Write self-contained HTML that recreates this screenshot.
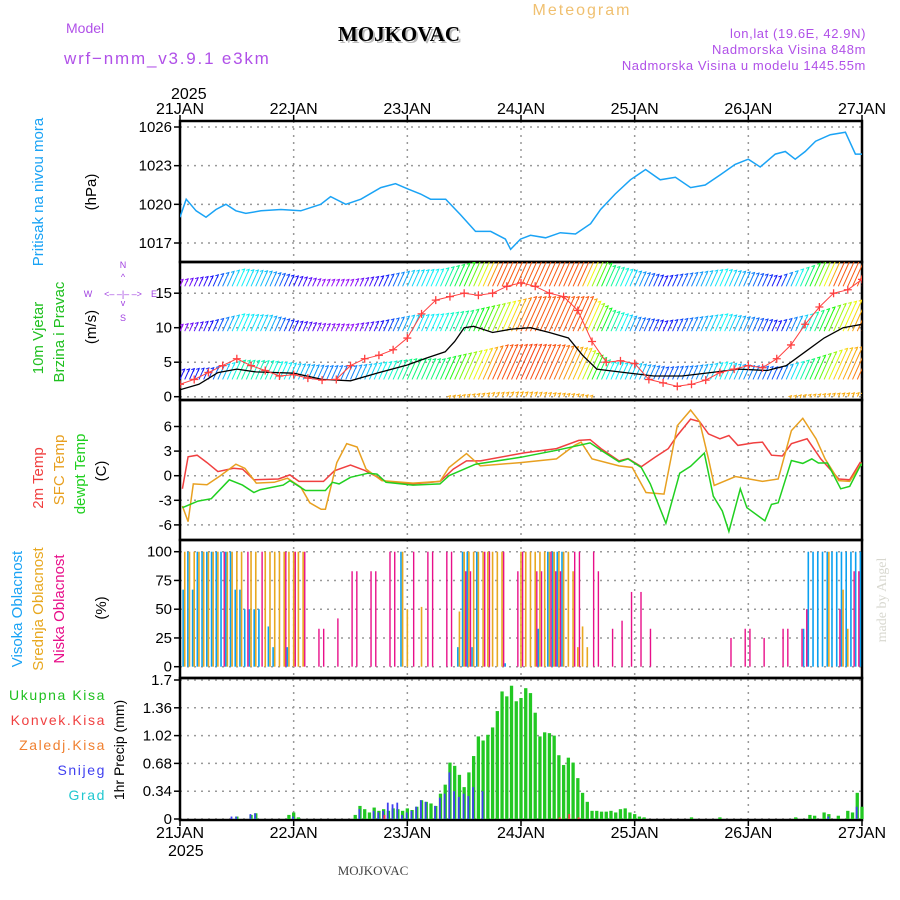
<!DOCTYPE html>
<html><head><meta charset="utf-8">
<style>
html,body{margin:0;padding:0;background:#fff;}
svg{display:block;font-family:"Liberation Sans",sans-serif;}
</style></head>
<body>
<svg id="chart" width="900" height="900" viewBox="0 0 900 900" xmlns="http://www.w3.org/2000/svg">
<defs>
<clipPath id="c1"><rect x="180" y="121" width="682" height="141"/></clipPath>
<clipPath id="c2"><rect x="180" y="262" width="682" height="138"/></clipPath>
<clipPath id="c3"><rect x="180" y="400" width="682" height="140"/></clipPath>
</defs>
<text x="582" y="15" font-size="16" fill="#f0c070" text-anchor="middle" letter-spacing="2">Meteogram</text>
<text x="66" y="33" font-size="14" fill="#b050e8">Model</text>
<text x="401" y="43" font-size="21" font-weight="bold" font-family="Liberation Serif,serif" fill="#bbb" text-anchor="middle">MOJKOVAC</text>
<text x="399" y="41" font-size="21" font-weight="bold" font-family="Liberation Serif,serif" fill="#000" text-anchor="middle">MOJKOVAC</text>
<text x="64" y="64" font-size="17" fill="#b050e8" letter-spacing="1.8">wrf−nmm_v3.9.1 e3km</text>
<text x="866" y="38" font-size="13" fill="#b050e8" text-anchor="end" letter-spacing="0.6">lon,lat (19.6E, 42.9N)</text>
<text x="866" y="54" font-size="13" fill="#b050e8" text-anchor="end" letter-spacing="0.6">Nadmorska Visina 848m</text>
<text x="866" y="70" font-size="13" fill="#b050e8" text-anchor="end" letter-spacing="0.6">Nadmorska Visina u modelu 1445.55m</text>
<text x="171" y="99" font-size="16" fill="#000">2025</text>
<text x="168" y="856" font-size="16" fill="#000">2025</text>
<text x="373" y="875" font-size="13" font-family="Liberation Serif,serif" fill="#444" text-anchor="middle">MOJKOVAC</text>
<text transform="translate(886,600) rotate(-90)" font-size="14" font-family="Liberation Serif,serif" fill="#d8d8d0" text-anchor="middle">made by Angel</text>

<text transform="translate(43,192) rotate(-90)" font-size="15" fill="#1aa3f5" text-anchor="middle">Pritisak na nivou mora</text>
<text transform="translate(96,192) rotate(-90)" font-size="15" fill="#000" text-anchor="middle">(hPa)</text>
<text transform="translate(43,338) rotate(-90)" font-size="15" fill="#20c020" text-anchor="middle">10m Vjetar</text>
<text transform="translate(64,332) rotate(-90)" font-size="15" fill="#20c020" text-anchor="middle">Brzina i Pravac</text>
<text transform="translate(96,327) rotate(-90)" font-size="15" fill="#000" text-anchor="middle">(m/s)</text>
<g font-size="9" fill="#a040e0" text-anchor="middle">
<text x="123" y="268">N</text><text x="123" y="280">^</text><text x="123" y="297">&lt;‒ ‒|‒ ‒&gt;</text><text x="88" y="297">W</text><text x="154" y="297">E</text><text x="123" y="306">v</text><text x="123" y="321">S</text>
</g>
<text transform="translate(43,478) rotate(-90)" font-size="15" fill="#f04040" text-anchor="middle">2m Temp</text>
<text transform="translate(64,470) rotate(-90)" font-size="15" fill="#e8a020" text-anchor="middle">SFC Temp</text>
<text transform="translate(85,474) rotate(-90)" font-size="15" fill="#20d020" text-anchor="middle">dewpt Temp</text>
<text transform="translate(106,471) rotate(-90)" font-size="15" fill="#000" text-anchor="middle">(C)</text>
<text transform="translate(22,609) rotate(-90)" font-size="15" fill="#1aa3f5" text-anchor="middle">Visoka Oblacnost</text>
<text transform="translate(43,609) rotate(-90)" font-size="15" fill="#e8a820" text-anchor="middle">Srednja Oblacnost</text>
<text transform="translate(64,609) rotate(-90)" font-size="15" fill="#e8108a" text-anchor="middle">Niska Oblacnost</text>
<text transform="translate(106,608) rotate(-90)" font-size="15" fill="#000" text-anchor="middle">(%)</text>
<g font-size="14" text-anchor="end" letter-spacing="1.6">
<text x="106" y="700" fill="#20c020">Ukupna Kisa</text>
<text x="106" y="725" fill="#f04040">Konvek.Kisa</text>
<text x="106" y="750" fill="#f08030">Zaledj.Kisa</text>
<text x="106" y="775" fill="#4040f0">Snijeg</text>
<text x="106" y="800" fill="#20c8d0">Grad</text>
</g>
<text transform="translate(124,750) rotate(-90)" font-size="14" fill="#000" text-anchor="middle">1hr Precip (mm)</text>
<g id="plot"></g>
</svg>
<script>
const dayLabels=["21JAN","22JAN","23JAN","24JAN","25JAN","26JAN","27JAN"];
const presTicks=[1017,1020,1023,1026];
const windTicks=[0,5,10,15];
const tempTicks=[-6,-3,0,3,6];
const cloudTicks=[0,25,50,75,100];
const precipTicks=[0,0.34,0.68,1.02,1.36,1.7];

const presH=[0,1.3,3.4,5.5,7.6,9.7,11.8,13.9,17.1,21.3,25.5,29.7,31.8,35,38.2,42.4,45.5,48.1,50.8,52.9,56.1,59.2,62.4,65.6,68.7,69.8,71.9,74,77.2,80.3,83.5,86.7,88.8,91.9,95.1,98.3,101.4,104.6,107.8,110.9,114.1,117.2,120,122.5,125.7,127.8,129.9,132,134.2,137.3,140.5,142.6,144];
const presV=[1019.0,1020.4,1019.5,1019.0,1019.6,1020.0,1019.5,1019.3,1019.5,1019.6,1019.5,1020.0,1020.6,1020.0,1020.4,1021.3,1021.6,1021.2,1020.8,1020.4,1020.4,1019.2,1017.9,1017.9,1017.3,1016.5,1017.3,1017.6,1017.4,1017.8,1017.7,1018.5,1019.6,1020.8,1021.9,1022.7,1021.9,1022.1,1021.3,1021.5,1022.3,1023.1,1023.5,1022.9,1023.9,1024.1,1023.5,1024.1,1024.9,1025.4,1025.6,1023.9,1023.9];

const speedH=[0,4,8,12,16,24,30,36,42,48,52,56,58,60,62,66,70,74,78,82,85,88,94,100,106,112,118,124,128,132,136,140,144];
const speedV=[1,1.8,3.5,4,3.6,3.4,2.5,2.3,3.5,4.6,5.6,6.5,8,10,10.2,9.3,9.8,10,9.3,8.5,6,4,3.5,3,3,3.5,4,3.8,4.5,6.5,8.5,10,10.5];
const gustH=[0,3,6,9,12,15,18,21,24,27,30,33,36,39,42,45,48,51,54,57,60,63,66,69,72,75,78,81,84,87,90,93,96,99,102,105,108,111,114,117,120,123,126,129,132,135,138,141,144];
const gustV=[1.8,2.5,3.5,4.5,5.5,4.5,3.8,3,3.2,2.7,2.4,2.5,4.5,5.5,6,6.8,8.5,12,14,14.5,15,14.7,15,16,16.5,16,15,14.5,12.5,8,5,5.2,4.8,2.5,2,1.5,1.8,2.4,3.5,4,4.5,4.2,5.5,7.5,10.5,13,15,15.5,17];

const barbH=[0,6,12,18,24,30,36,42,48,54,60,66,72,78,84,90,96,102,108,114,120,126,132,138,144];
const barbBase=[2.5,9.5,16,0];
const barbTopA=[4,4.2,5.3,5.2,4.8,4.5,4.5,5,5.5,5.5,6.5,7.5,7.6,7.5,7,5,4.8,4.3,4.5,5,4.5,4.3,5.5,7,7.5];
const barbTopB=[10.5,11,12,11.8,11,10.6,10.5,11,11.8,12,12.5,13.5,14.5,14.5,14.5,12.5,11.5,11,11.5,12,11.5,11,12,13.5,14.5];
const barbTopC=[17,17.5,18.5,18.2,17.5,17,17,17.5,18.3,18.5,19.5,21,21,21,21,19,18.2,17.5,18,18.5,18,17.5,19,21,21];
const barbTopD=[0,0,0,0,0,0,0,0,0,0,0.3,0.6,0.7,0.6,0.4,0,0,0,0,0,0,0,0.3,0.5,0.6];

const t2H=[0.5,1.7,3.6,5.7,8,11.3,13.2,15.6,20.8,23.2,25.1,30.3,32.6,36,38.8,43.5,49.2,54.9,57.7,60.5,63.4,72.8,79.5,84.2,86.6,88.9,92.7,94.6,97.4,100.3,103.1,105,107.8,109.7,111.6,114,115.9,117.8,121.1,123,124.9,127.2,129.1,132.4,135.3,139.1,141.4,143.6,144];
const t2V=[-1.6,2.3,2.5,1.6,0.5,0.9,0.8,-0.5,-0.4,0.1,-0.7,-0.7,0.6,1.3,0.7,-0.7,-1.0,-0.7,0.8,1.8,1.8,2.8,3.3,4.3,4.4,3.3,1.8,2.1,1.1,2.25,3.3,4.9,6.9,6.6,5.1,4.5,4.9,3.7,4.0,4.1,2.5,2.4,3.9,4.5,2.05,-0.4,-0.5,1.6,1.5];
const sfcH=[0.5,1.7,2.8,5.7,8.5,11.8,13.7,16.1,19.9,22.7,25.5,27.4,29.8,30.7,33.1,35.2,37.4,39.3,42.6,49.2,54.9,56.8,60.5,63.4,71.9,79.5,83.3,84.7,87,92.7,95.5,98.4,102.2,105,107.8,109.7,111.6,112.8,117.3,123,126.3,129.1,131.5,134.3,136.2,139.1,141.4,143.8,144];
const sfcV=[-3.7,-5.6,-1.0,-1.1,0,1.4,0.9,-0.9,-0.8,-0.3,-1.4,-3.3,-4.1,-4.1,1.6,3.9,3.5,0.8,-0.6,-0.9,-0.7,1.0,2.7,1.2,1.6,2.05,3.7,4.1,2.05,1.2,1.0,-2.05,-2.25,6.1,8.0,6.6,2.05,-1.2,-0.1,-0.7,-0.4,5.5,7.0,4.5,2.05,-0.6,-0.7,1.4,1.2];
const dewH=[0.5,3.8,6.6,10.4,13.2,15.6,17,21.8,23.2,26.5,30.7,32.2,33.6,36,39.7,41.6,43.5,49.2,54.9,56.8,62.4,71.9,79.5,86.6,88.9,92.7,94.6,97.4,99.3,102.6,105.5,107.8,110.7,112.6,114.5,115.9,118.3,119.7,123.5,124.9,126.3,129.1,131.5,133.4,134.8,136.7,139.5,141.4,143.8,144];
const dewV=[-3.9,-3.1,-2.8,-0.5,-1.15,-2.05,-1.7,-1.15,-0.6,-1.8,-1.8,-0.8,-1.0,-0.2,0.3,0.2,-0.8,-1.15,-1.0,0,1.4,2.25,3.1,4.0,3.1,1.7,2.05,1.0,-1.0,-5.8,0.3,1.15,2.75,-2.5,-4.3,-6.8,-1.6,-3.9,-5.5,-3.5,-3.3,1.85,1.5,2.05,1.55,1.55,-1.6,-1.3,1.4,1.2];

const highH=[1,2,3,4,5,6,7,8,9,10,11,12,13,14,15,16,17,19,20,23,47,59,60,61,62,63,69,76,78,79,80,81,132,133,134,135,136,137,138,139,140,141,142,143,144];
const highV=[67,100,67,100,100,100,100,100,100,100,100,67,67,50,50,50,50,35,17,17,100,17,100,100,17,100,3,33,100,100,100,100,33,100,100,100,100,100,100,100,100,100,100,100,100];
const midH=[1,2,3,4,5,6,7,8,10,11,12,13,15,16,18,19,20,21,22,23,24,25,26,47,48,51,59,60,61,62,63,64,65,66,67,68,72,73,74,75,76,77,78,79,80,81,82,83,84,85,86,137,140,141];
const midV=[100,100,100,100,100,100,100,100,100,100,100,100,100,100,100,100,100,100,100,100,100,100,100,100,50,52,48,100,100,100,100,100,100,100,100,100,100,100,100,100,100,100,100,100,100,100,100,83,17,35,17,100,67,33];
const lowH=[9,14,17,22,24,26,29,30,33,36,37,40,41,44,45,49,52,53,56,57,60,61,64,65,68,71,72,75,76,78,79,80,83,84,87,88,91,93,95,97,99,116,119,120,123,127,128,131,132,139,142,143];
const lowV=[100,100,100,100,100,100,33,33,42,83,83,83,83,100,100,100,100,100,100,100,83,83,100,100,100,83,100,83,83,100,83,83,100,100,100,83,33,40,65,65,33,25,33,33,25,33,33,33,50,50,83,83];

const rainH=[12,15,16,23,24,25,37,38,39,40,41,42,43,44,45,46,47,48,49,50,51,52,53,54,55,56,57,58,59,60,61,62,63,64,65,66,67,68,69,70,71,72,73,74,75,76,77,78,79,80,81,82,83,84,85,86,87,88,89,90,91,92,93,94,95,96,97,98,108,114,130,133,134,136,137,139,141,142,143,144];
const rainV=[0.03,0.05,0.07,0.05,0.08,0.02,0.05,0.16,0.12,0.08,0.14,0.1,0.12,0.1,0.13,0.12,0.1,0.13,0.11,0.15,0.23,0.21,0.19,0.16,0.31,0.42,0.69,0.65,0.54,0.39,0.57,0.77,1.01,0.96,1.03,1.12,1.32,1.56,1.5,1.63,1.44,1.48,1.6,1.54,1.3,1.01,1.06,1.05,1.02,0.78,0.66,0.75,0.69,0.5,0.32,0.21,0.1,0.1,0.09,0.09,0.1,0.08,0.12,0.13,0.08,0.06,0.03,0.02,0.02,0.02,0.02,0.05,0.04,0.08,0.06,0.04,0.1,0.08,0.32,0.15];
const snowH=[11,12,15,16,24,38,41,42,43,44,45,46,47,48,49,50,51,52,54,55,56,57,58,59,60,61,62,64,137,143];
const snowV=[0.03,0.03,0.06,0.07,0.03,0.12,0.1,0.08,0.1,0.2,0.18,0.2,0.05,0.08,0.1,0.15,0.23,0.21,0.16,0.26,0.31,0.57,0.34,0.27,0.31,0.28,0.39,0.34,0.03,0.15];
const convH=[43,80,82,84];
const convV=[0.05,0.02,0.06,0.02];

const NS="http://www.w3.org/2000/svg";
const plot=document.getElementById('plot');
const X0=180,X1=862;
const X=h=>X0+h*(X1-X0)/144;
const YP=v=>127+(1026-v)*(243-127)/9;
const YW=v=>396.7-v*6.9;
const YT=v=>475.7-v*8.2;
const YC=v=>666.7-v*1.15;
const YR=v=>819-v*(819-680)/1.7;
function mk(tag,attrs,parent){const e=document.createElementNS(NS,tag);for(const k in attrs)e.setAttribute(k,attrs[k]);(parent||plot).appendChild(e);return e;}
function interp(hs,vs,h){if(h<=hs[0])return vs[0];for(let i=1;i<hs.length;i++){if(h<=hs[i]){const t=(h-hs[i-1])/(hs[i]-hs[i-1]);return vs[i-1]+t*(vs[i]-vs[i-1]);}}return vs[vs.length-1];}

const panels=[[121,262,presTicks,YP,'pressure'],[262,400,windTicks,YW,'wind'],[400,540,tempTicks,YT,'temperature'],[540,678,cloudTicks,YC,'cloud'],[678,820,precipTicks,YR,'precip']];
panels.forEach(p=>{
  const g=mk('g',{});
  
  
  for(let d=1;d<6;d++){const gl=mk('line',{x1:X(d*24),x2:X(d*24),y1:p[0],y2:p[1],stroke:'#999','stroke-dasharray':'2,5','stroke-width':1.5},g);
    
    }
  p[2].forEach(t=>{const y=p[3](t);
    const gl=mk('line',{x1:X0,x2:X1,y1:y,y2:y,stroke:'#999','stroke-dasharray':'2,5','stroke-width':1.5},g);
    
    
    const tk=mk('line',{x1:X0-6,x2:X0,y1:y,y2:y,stroke:'#000','stroke-width':1.5},g);
    
    
    const tl=mk('text',{x:X0-8,y:y+5,'font-size':15,'text-anchor':'end',fill:'#000'},g);
    
    
    tl.textContent=String(t);});
  const fr=mk('rect',{x:X0,y:p[0],width:X1-X0,height:p[1]-p[0],fill:'none',stroke:'#000','stroke-width':2.5},g);
  
  
});
dayLabels.forEach((d,i)=>{
  const x=X(i*24);
  const a=mk('text',{x:x,y:114,'font-size':16,'text-anchor':'middle'});
  
  
  a.textContent=d;
  const b=mk('text',{x:x,y:838,'font-size':16,'text-anchor':'middle'});
  
  
  b.textContent=d;
  const t1=mk('line',{x1:x,x2:x,y1:115,y2:121,stroke:'#000','stroke-width':1.5});
  
  
  const t2=mk('line',{x1:x,x2:x,y1:820,y2:826,stroke:'#000','stroke-width':1.5});
  
  
});

function line(hs,vs,Y,color,name,clip,w){
  const pts=hs.map((h,i)=>X(h).toFixed(1)+','+Y(vs[i]).toFixed(1)).join(' ');
  const pl=mk('polyline',{points:pts,fill:'none',stroke:color,'stroke-width':w||1.5,'clip-path':'url(#'+clip+')'});
  
  
}
line(presH,presV,YP,'#1aa3f5','pressure-line','c1');

const rows=[barbTopA,barbTopB,barbTopC,barbTopD];
const wg=mk('g',{'clip-path':'url(#c2)'});


rows.forEach((tops,r)=>{
  const base=barbBase[r];
  for(let h=0;h<=144;h++){
    const top=interp(barbH,tops,h);
    const L=top-base;
    if(L<0.15)continue;
    const hue=r===3?40:Math.max(0,Math.min(275,275-(L-1)*64));
    const y0=YW(base),y1=YW(top),x0=X(h),x1=x0+(y0-y1)*0.45;
    const ln=mk('line',{x1:x0,y1:y0,x2:x1,y2:y1,stroke:'hsl('+hue+',95%,52%)','stroke-width':1},wg);
    
    
    const hd=mk('path',{d:'M'+(x1-3)+','+(y1+1)+'L'+x1+','+y1+'L'+(x1-1)+','+(y1+3),stroke:'hsl('+hue+',95%,52%)',fill:'none','stroke-width':1},wg);
    
    
  }
});
line(speedH,speedV,YW,'#000','wind-speed-line','c2',1.3);
line(gustH,gustV,YW,'#ff4040','wind-gust-line','c2',1);
gustH.forEach((h,i)=>{
  const x=X(h),y=YW(gustV[i]);
  const c=mk('path',{d:'M'+(x-4)+','+y+'H'+(x+4)+'M'+x+','+(y-4)+'V'+(y+4),stroke:'#ff4040','stroke-width':1.3,'clip-path':'url(#c2)'});
  
  
});

line(t2H,t2V,YT,'#f04040','temp-2m-line','c3');
line(sfcH,sfcV,YT,'#e8a020','temp-sfc-line','c3');
line(dewH,dewV,YT,'#20d020','dewpoint-line','c3');

function bars(hs,vs,Y,color,dx,w,name){
  hs.forEach((h,i)=>{
    const y=Y(vs[i]),y0=Y(0);
    const b=mk('rect',{x:X(h)+dx-w/2,y:y,width:w,height:Math.max(0,y0-y),fill:color});
    
    
  });
}
bars(highH,highV,YC,'#0aa0f0',-1.6,1.6,'high-cloud-bar');
bars(midH,midV,YC,'#e8a820',0,1.6,'mid-cloud-bar');
bars(lowH,lowV,YC,'#e8108a',1.6,1.4,'low-cloud-bar');

bars(rainH,rainV,YR,'#22c822',0,3.3,'total-precip-bar');
bars(snowH,snowV,YR,'#4040f0',-0.6,1.8,'snow-bar');
bars(convH,convV,YR,'#f04040',0.8,2,'convective-bar');
</script>
</body></html>
